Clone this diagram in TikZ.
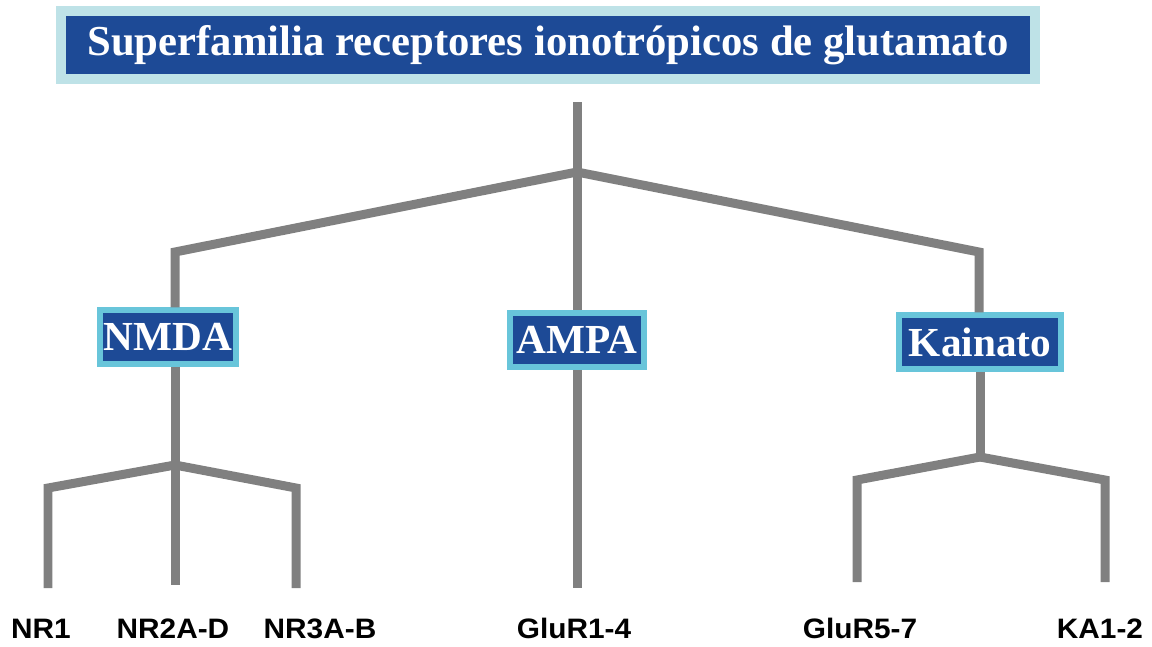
\documentclass[tikz,border=0pt]{standalone}
\usepackage{fontspec}
\setmainfont{Liberation Serif}
\newfontfamily\leaffont{Liberation Sans}

\definecolor{boxblue}{RGB}{29,74,150}
\definecolor{paleedge}{RGB}{190,226,231}
\definecolor{cyanedge}{RGB}{104,197,218}
\definecolor{stemgray}{RGB}{128,128,128}

\newcommand{\leaftext}[1]{\scalebox{1.06}[1]{#1}}

\tikzset{
  stem/.style={stemgray, line width=0.18cm},
  family/.style={fill=boxblue, draw=cyanedge, line width=0.12cm, text=white,
    font=\fontsize{23.5}{28}\selectfont\bfseries, minimum height=1.07cm, inner sep=0pt},
  leaf/.style={font=\fontsize{16}{19}\selectfont\leaffont\bfseries, anchor=base, inner sep=0pt}
}

\begin{document}
\begin{tikzpicture}[x=0.02cm, y=-0.02cm]
\useasboundingbox (0,0) rectangle (1152,646);

% title and families
\node[fill=boxblue, draw=paleedge, line width=0.2cm, text=white, inner sep=0pt,
  minimum width=19.5cm, minimum height=1.38cm,
  font=\fontsize{24.3}{29}\selectfont\bfseries] (title) at (548,45)
  {Superfamilia receptores ionotrópicos de glutamato};
\node[family, minimum width=2.74cm] (nmda) at (168,337) {NMDA};
\node[family, minimum width=2.67cm] (ampa) at (577,340) {AMPA};
\node[family, minimum width=3.24cm] (kainato) at (980,342) {Kainato};

% subunits
\node[leaf] (nr1) at (41,638) {\leaftext{NR1}};
\node[leaf] (nr2) at (173,638) {\leaftext{NR2A-D}};
\node[leaf] (nr3) at (320,638) {\leaftext{NR3A-B}};
\node[leaf] (glur14) at (574,638) {\leaftext{GluR1-4}};
\node[leaf] (glur57) at (860,638) {\leaftext{GluR5-7}};
\node[leaf] (ka12) at (1100,638) {\leaftext{KA1-2}};

% branch points
\coordinate (top) at (577,102);
\coordinate (hub) at (577,172);
\coordinate (lknee) at (175,252);
\coordinate (rknee) at (979,252);
\coordinate (nhub) at (175,465);
\coordinate (n1knee) at (48,488);
\coordinate (n3knee) at (296,488);
\coordinate (khub) at (980,457);
\coordinate (k1knee) at (857,480);
\coordinate (k2knee) at (1105,480);

\draw[stem] (top) -- (ampa.north);
\draw[stem] (hub) -- (lknee) -- (lknee |- nmda.north);
\draw[stem] (hub) -- (rknee) -- (rknee |- kainato.north);
\draw[stem] (ampa.south) -- (ampa.south |- 0,588);

\draw[stem] (lknee |- nmda.south) -- (nhub) -- (nhub |- 0,585);
\draw[stem] (nhub) -- (n1knee) -- (n1knee |- 0,588);
\draw[stem] (nhub) -- (n3knee) -- (n3knee |- 0,588);

\draw[stem] (khub |- kainato.south) -- (khub);
\draw[stem] (khub) -- (k1knee) -- (k1knee |- 0,582);
\draw[stem] (khub) -- (k2knee) -- (k2knee |- 0,582);
\end{tikzpicture}
\end{document}
